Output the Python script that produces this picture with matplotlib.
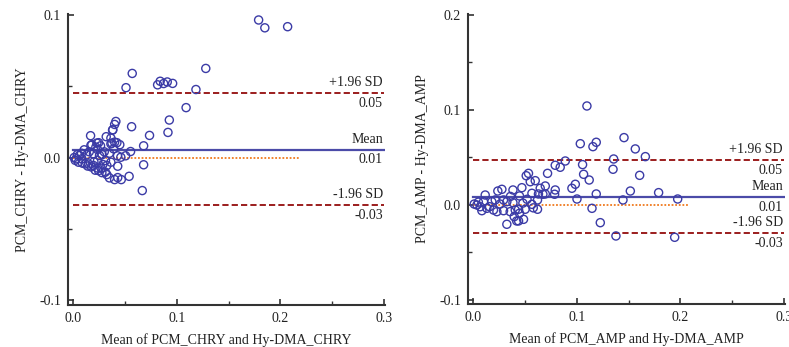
import matplotlib
matplotlib.use("Agg")
import matplotlib.pyplot as plt
from matplotlib.ticker import MultipleLocator, FormatStrFormatter

plt.rcParams['font.family'] = ['Liberation Serif', 'DejaVu Serif']
plt.rcParams['axes.unicode_minus'] = False

# ---------------- data: CHRY ----------------
chry_x = [0.179, 0.185, 0.207, 0.057, 0.051, 0.128, 0.0815, 0.084, 0.0873, 0.0908,
          0.096, 0.1185, 0.109, 0.0928, 0.0915, 0.0737, 0.0564, 0.0412, 0.040, 0.038,
          0.0319, 0.0364, 0.0168, 0.040, 0.0364, 0.068, 0.0554, 0.0428, 0.046, 0.0506,
          0.068, 0.043, 0.0667, 0.054, 0.0464, 0.043, 0.040, 0.035, 0.0277, 0.0325,
          0.0213, 0.0174, 0.0287, 0.0364, 0.0264, 0.0229, 0.0171, 0.0106, 0.0235, 0.039,
          0.0374, 0.0132, 0.0196, 0.0254, 0.0312, 0.0084, 0.0029, 0.006, 0.0051, 0.0116,
          0.0235, 0.0325, 0.0239, 0.0148, 0.0383, 0.0422, 0.0245, 0.018, 0.0219, 0.0245,
          0.0196, 0.031, 0.001, 0.004, 0.008, 0.002, 0.014, 0.009, 0.027, 0.030,
          0.035, 0.045, 0.0155, 0.020, 0.028]
chry_y = [0.0965, 0.091, 0.0918, 0.059, 0.049, 0.0625, 0.051, 0.0535, 0.0519, 0.053,
          0.052, 0.0477, 0.035, 0.0263, 0.0176, 0.0155, 0.0216, 0.0253, 0.0232, 0.0192,
          0.0146, 0.0136, 0.0153, 0.0108, 0.0096, 0.0082, 0.0042, 0.0012, 0.0002, 0.0012,
          -0.0051, -0.0061, -0.0232, -0.0132, -0.0155, -0.0141, -0.0155, -0.0143, -0.0106, -0.012,
          -0.0089, -0.0066, -0.0049, -0.0033, 0.0082, 0.0101, 0.0085, 0.0054, 0.0056, 0.0061,
          0.0101, 0.0019, 0.0026, 0.0014, -0.0021, -0.0009, -0.0009, 0.0014, -0.0033, -0.0045,
          -0.0021, -0.0056, -0.0075, -0.0045, 0.0195, 0.0104, 0.0104, 0.009, 0.0073, -0.0092,
          -0.0056, -0.0103, 0.000, 0.002, 0.003, -0.002, -0.006, -0.004, -0.0075, 0.004,
          0.003, 0.009, 0.004, -0.003, 0.002]
chry_mean, chry_upper, chry_lower = 0.0056, 0.0451, -0.0331
chry_zero_end = 0.219

# ---------------- data: AMP ----------------
amp_x = [0.1098, 0.1034, 0.1156, 0.1188, 0.1456, 0.1565, 0.1662, 0.1356, 0.1056, 0.0889,
         0.0792, 0.084, 0.135, 0.1607, 0.1066, 0.112, 0.0986, 0.0953, 0.0718, 0.1188,
         0.1517, 0.179, 0.1974, 0.1446, 0.1002, 0.1147, 0.1227, 0.1378, 0.1945, 0.0792,
         0.0696, 0.0696, 0.063, 0.0647, 0.0599, 0.0534, 0.0512, 0.0551, 0.047, 0.0384,
         0.0277, 0.0238, 0.0447, 0.0567, 0.0621, 0.0621, 0.0567, 0.0502, 0.0438, 0.0447,
         0.0396, 0.0438, 0.0486, 0.0325, 0.0325, 0.0384, 0.0293, 0.0213, 0.0196, 0.0229,
         0.0293, 0.0357, 0.0158, 0.0116, 0.010, 0.0036, 0.0068, 0.0084, 0.0132, 0.018,
         0.0406, 0.0786, 0.0673, 0.042, 0.001, 0.005, 0.026, 0.052, 0.036, 0.058, 0.048]
amp_y = [0.1042, 0.0645, 0.0614, 0.066, 0.0709, 0.059, 0.0509, 0.0484, 0.0425, 0.0463,
         0.0418, 0.0397, 0.0376, 0.0312, 0.0323, 0.0263, 0.0218, 0.0176, 0.0333, 0.0116,
         0.0147, 0.013, 0.0063, 0.0053, 0.0063, -0.0035, -0.0186, -0.0326, -0.034, 0.0158,
         0.020, 0.0116, 0.0116, 0.0176, 0.0256, 0.0333, 0.0308, 0.0245, 0.0182, 0.0158,
         0.0165, 0.0147, 0.0095, 0.0123, 0.0053, -0.0045, 0.0007, -0.0045, -0.0045, -0.0087,
         -0.0123, -0.0168, -0.0151, -0.0203, 0.0035, 0.0024, 0.0053, 0.0053, -0.0053, -0.007,
         -0.006, -0.007, -0.0018, 0.0105, 0.0035, 0.000, -0.0018, -0.006, -0.0035, 0.0035,
         -0.0053, 0.0113, 0.0113, -0.0168, 0.001, 0.003, 0.001, 0.006, 0.009, -0.003, 0.002]
amp_mean, amp_upper, amp_lower = 0.0084, 0.0474, -0.0295
amp_zero_end = 0.207

W, H = 789, 347
fig = plt.figure(figsize=(W / 100, H / 100), dpi=100)

BLUE_PT = '#3b3ba6'
RED = '#9b1d1d'
BLUE_LINE = '#4b4ba8'
ORANGE = '#f07a1e'
TXT = '#222222'
FS = 10


def make_axes(left_px, top_px, right_px, bottom_px):
    return fig.add_axes([left_px / W, 1 - bottom_px / H,
                         (right_px - left_px) / W, (bottom_px - top_px) / H])


def draw(ax, xs, ys, mean, upper, lower, zero_end, ylim, ymajor, xlabel, ylabel):
    ax.set_xlim(-0.005, 0.301)
    ax.set_ylim(*ylim)
    ax.scatter(xs, ys, s=34, facecolors='none', edgecolors=BLUE_PT, linewidths=1.0, zorder=3)
    ax.plot([0, 0.3], [upper, upper], color=RED, ls=(0, (3.2, 1.6)), lw=1.4, zorder=2)
    ax.plot([0, 0.3], [lower, lower], color=RED, ls=(0, (3.2, 1.6)), lw=1.4, zorder=2)
    ax.plot([0, 0.3], [mean, mean], color=BLUE_LINE, ls='-', lw=1.6, zorder=2)
    ax.plot([0, zero_end], [0, 0], color=ORANGE, ls=(0, (1, 1)), lw=1.3, zorder=2)
    for val, name in [(upper, '+1.96 SD'), (mean, 'Mean'), (lower, '-1.96 SD')]:
        ax.annotate(name, xy=(0.299, val), xytext=(0, 7.5), textcoords='offset points',
                    ha='right', va='center', fontsize=FS, color=TXT)
        ax.annotate(f'{val:.2f}', xy=(0.299, val), xytext=(0, -7.5), textcoords='offset points',
                    ha='right', va='center', fontsize=FS, color=TXT)
    for s in ['top', 'right']:
        ax.spines[s].set_visible(False)
    for s in ['left', 'bottom']:
        ax.spines[s].set_linewidth(1.5)
        ax.spines[s].set_color('#333333')
    ax.xaxis.set_major_locator(MultipleLocator(0.1))
    ax.xaxis.set_minor_locator(MultipleLocator(0.05))
    ax.yaxis.set_major_locator(MultipleLocator(ymajor))
    ax.yaxis.set_minor_locator(MultipleLocator(0.05))
    ax.xaxis.set_major_formatter(FormatStrFormatter('%.1f'))
    ax.yaxis.set_major_formatter(FormatStrFormatter('%.1f'))
    ax.tick_params(which='major', direction='in', length=4, width=1.2, color='#333333',
                   labelsize=FS, labelcolor=TXT, pad=5)
    ax.tick_params(which='minor', direction='in', length=3, width=1.0, color='#333333')
    ax.set_xlabel(xlabel, fontsize=FS, color=TXT, labelpad=6)
    ax.set_ylabel(ylabel, fontsize=FS, color=TXT, labelpad=7.5)


ax1 = make_axes(68, 14, 385, 305)
draw(ax1, chry_x, chry_y, chry_mean, chry_upper, chry_lower, chry_zero_end,
     (-0.1035, 0.1007), 0.1, 'Mean of PCM_CHRY and Hy-DMA_CHRY', 'PCM_CHRY - Hy-DMA_CHRY')

ax2 = make_axes(468, 14, 785, 304)
draw(ax2, amp_x, amp_y, amp_mean, amp_upper, amp_lower, amp_zero_end,
     (-0.1042, 0.201), 0.1, 'Mean of PCM_AMP and Hy-DMA_AMP', 'PCM_AMP - Hy-DMA_AMP')

fig.savefig('out.png', dpi=100)
